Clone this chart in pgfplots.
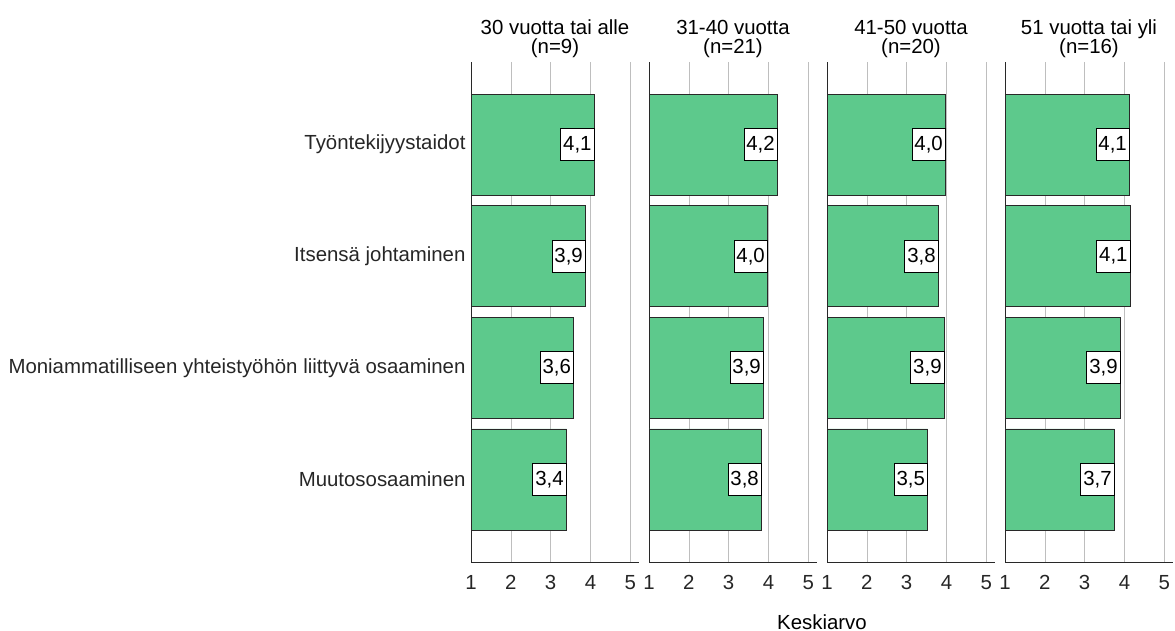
\documentclass[border=0pt]{standalone}
\usepackage{pgfplots}
\pgfplotsset{compat=1.18}
\usepackage{fontspec}
\setmainfont{Liberation Sans}

\definecolor{bargreen}{RGB}{93,201,140}
\definecolor{gridgray}{RGB}{190,190,190}
\definecolor{edgegray}{RGB}{40,40,40}

\newcommand{\fs}{\fontsize{20.4}{19.5}\selectfont}

\pgfplotsset{
  panel/.style={
    scale only axis,
    width=168pt, height=500pt,
    anchor=north west,
    xbar, bar width=101pt,
    xmin=1, xmax=5.22,
    ymin=-0.74, ymax=3.74,
    y dir=reverse,
    axis x line*=bottom, axis y line*=left,
    axis line style={edgegray, line width=0.8pt},
    xtick={1,2,3,4,5},
    ytick={0,1,2,3},
    major tick length=0pt,
    xmajorgrids,
    grid style={gridgray, line width=0.6pt},
    tick label style={font=\fs, text=black!85},
    /pgf/number format/assume math mode=true,
    xticklabel style={yshift=-10pt},
    yticklabels={},
    title style={font=\fs, align=center, inner sep=1pt, yshift=-3pt},
    point meta=explicit symbolic,
    nodes near coords,
    every node near coord/.append style={anchor=east, draw=black, fill=white,
      font=\fs, inner sep=2.5pt, minimum height=32pt, line width=0.7pt},
  },
  bars/.style={fill=bargreen, draw=edgegray, line width=0.8pt},
}

\pgfplotstableread{
c v lab
0 4.10 4,1
1 3.88 3,9
2 3.58 3,6
3 3.40 3,4
}\tabA
\pgfplotstableread{
c v lab
0 4.23 4,2
1 3.98 4,0
2 3.88 3,9
3 3.83 3,8
}\tabB
\pgfplotstableread{
c v lab
0 3.98 4,0
1 3.80 3,8
2 3.95 3,9
3 3.53 3,5
}\tabC
\pgfplotstableread{
c v lab
0 4.13 4,1
1 4.15 4,1
2 3.90 3,9
3 3.75 3,7
}\tabD

\begin{document}
\begin{tikzpicture}
\begin{axis}[panel, at={(471pt,-62pt)},
  title={30 vuotta tai alle\\(n=9)},
  yticklabels={Työntekijyystaidot,Itsensä johtaminen,Moniammatilliseen yhteistyöhön liittyvä osaaminen,Muutososaaminen},
  yticklabel style={xshift=-2pt}]
\addplot[bars, every node near coord/.append style={anchor=east}] table[x=v, y=c, meta=lab] {\tabA};
\end{axis}
\begin{axis}[panel, at={(649pt,-62pt)}, title={31-40 vuotta\\(n=21)}]
\addplot[bars, every node near coord/.append style={anchor=east}] table[x=v, y=c, meta=lab] {\tabB};
\end{axis}
\begin{axis}[panel, at={(827pt,-62pt)}, title={41-50 vuotta\\(n=20)}]
\addplot[bars, every node near coord/.append style={anchor=east}] table[x=v, y=c, meta=lab] {\tabC};
\end{axis}
\begin{axis}[panel, at={(1005pt,-62pt)}, title={51 vuotta tai yli\\(n=16)}]
\addplot[bars, every node near coord/.append style={anchor=east}] table[x=v, y=c, meta=lab] {\tabD};
\end{axis}
\node[font=\fs, anchor=base] at (822pt,-629pt) {Keskiarvo};
\pgfresetboundingbox
\path[use as bounding box] (0pt,0pt) rectangle (1175pt,-631pt);
\end{tikzpicture}
\end{document}
